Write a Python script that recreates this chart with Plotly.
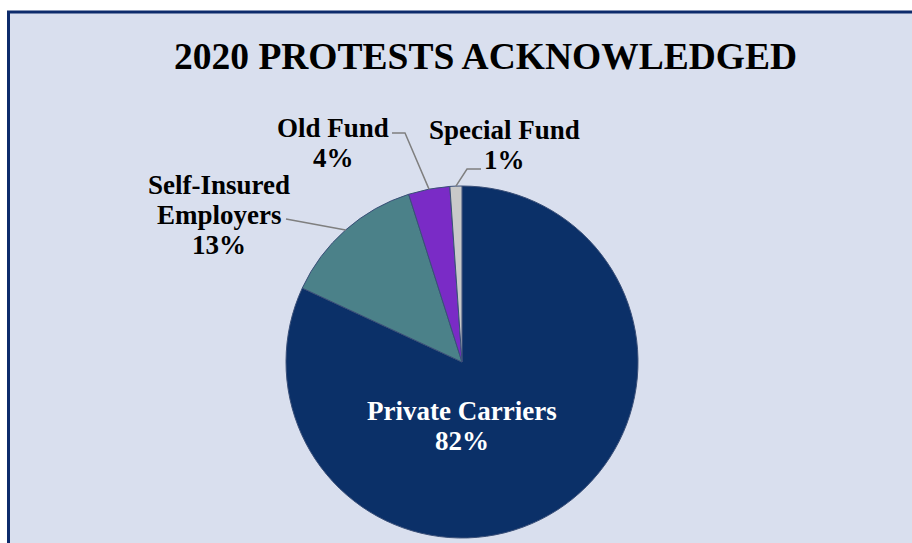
import math
import plotly.graph_objects as go

# ---- data ----
categories = ["Private Carriers", "Self-Insured Employers", "Old Fund", "Special Fund"]
label_lines = [["Private Carriers"], ["Self-Insured", "Employers"], ["Old Fund"], ["Special Fund"]]
values = [81.9, 13.2, 3.8, 1.1]
colors = ["#0B3068", "#4B8189", "#7A2BC6", "#C9C9C9"]
title_text = "2020 PROTESTS ACKNOWLEDGED"

W, H = 912, 543
CX, CY, R = 462, 362, 176  # pie centre / radius in px


def px(x):
    return x / W


def py(y):
    return 1 - y / H


fig = go.Figure()

# frame (light panel with dark border)
fig.add_shape(type="rect", xref="paper", yref="paper",
              x0=px(8.5), x1=1.02, y0=-0.02, y1=py(12),
              fillcolor="#D9DFEE", line=dict(color="#0D2B6B", width=3), layer="below")

fig.add_trace(go.Pie(
    labels=categories, values=values, sort=False, direction="clockwise", rotation=0,
    marker=dict(colors=colors, line=dict(color="#3A4F78", width=1)),
    textinfo="none", hoverinfo="label+percent", showlegend=False,
    domain=dict(x=[px(CX - R), px(CX + R)], y=[py(CY + R), py(CY - R)]),
))

total = sum(values)
pcts = [f"{round(v / total * 100):d}%" for v in values]

# slice geometry (fraction start/end, clockwise from 12 o'clock)
cum = 0
mids = []
for v in values:
    mids.append((cum + v / 2) / total)
    cum += v


def edge_point(frac, r=R):
    th = 2 * math.pi * frac
    return CX + r * math.sin(th), CY - r * math.cos(th)


FONT = "Liberation Serif, Times New Roman, serif"
LH = 30

def add_label(lines, cx, y_first, color="#000000"):
    for i, t in enumerate(lines):
        fig.add_annotation(x=px(cx), y=py(y_first + i * LH), xref="paper", yref="paper",
                           text=f"<b>{t}</b>", showarrow=False,
                           font=dict(family=FONT, size=27, color=color),
                           xanchor="center", yanchor="middle")

# label placements (px): centre x, first-line y
placements = [(462, 411), (219, 185), (333, 128), (504, 130)]
for i, (lines, (cx, y0)) in enumerate(zip(label_lines, placements)):
    col = "#FFFFFF" if i == 0 else "#000000"
    add_label(lines + [pcts[i]], cx, y0, col)

# leader lines
leader_starts = {1: [(286, 219)], 2: [(392, 133), (405, 133)], 3: [(481, 169), (467, 169)]}
for i, pts in leader_starts.items():
    ex, ey = edge_point(mids[i])
    allp = pts + [(ex, ey)]
    path = "M " + " L ".join(f"{px(x)},{py(y)}" for x, y in allp)
    fig.add_shape(type="path", xref="paper", yref="paper", path=path,
                  line=dict(color="#7F7F7F", width=1.5))

fig.add_annotation(x=px(485), y=py(57), xref="paper", yref="paper",
                   text=f"<b>{title_text}</b>", showarrow=False,
                   font=dict(family=FONT, size=37.5, color="#000000"),
                   xanchor="center", yanchor="middle")

fig.update_layout(width=W, height=H, margin=dict(l=0, r=0, t=0, b=0),
                  paper_bgcolor="#FFFFFF", plot_bgcolor="#FFFFFF")

fig.write_html("out.html", config={"displayModeBar": False},
               post_script="document.body.style.margin='0';document.body.style.overflow='hidden';")
